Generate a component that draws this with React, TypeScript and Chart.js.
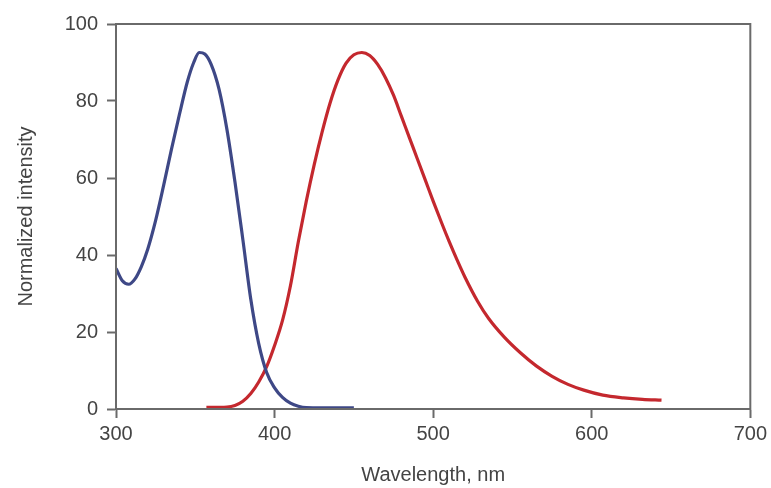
import React, { useEffect, useRef } from "react";
import { Chart, registerables } from "chart.js";

Chart.register(...registerables);

// Excitation spectrum (blue)
const excitationWavelength = [300, 304, 308, 312, 316, 320, 325, 330, 335, 340, 345, 349, 352.5, 356, 360, 365, 370, 375, 380, 385, 390, 395, 400, 405, 410, 415, 420, 430, 450];
const excitationIntensity = [36.5, 33.3, 32.4, 33.8, 37, 41.5, 49, 58, 67.5, 76.5, 85, 90, 92.6, 92.2, 89.5, 83, 72.5, 59, 44, 28.5, 17, 9.5, 5.5, 3, 1.5, 0.7, 0.35, 0.3, 0.3];

// Emission spectrum (red)
const emissionWavelength = [357, 370, 375, 380, 385, 390, 395, 400, 405, 410, 415, 420, 425, 430, 435, 440, 445, 450, 455, 460, 465, 470, 475, 480, 485, 490, 495, 500, 505, 510, 515, 520, 528, 535, 545, 555, 565, 575, 585, 595, 607, 620, 632, 644];
const emissionIntensity = [0.4, 0.5, 0.9, 2.0, 4.0, 7.0, 11, 16.5, 23, 32, 43.5, 54, 63.5, 72, 79.5, 85.5, 89.8, 92, 92.6, 91.8, 89.5, 86, 81.5, 76, 70.5, 65, 59.5, 54, 48.7, 43.6, 38.8, 34.3, 28, 23.5, 18.6, 14.6, 11.2, 8.5, 6.4, 4.9, 3.6, 2.9, 2.5, 2.3];

const xTickValues = [300, 400, 500, 600, 700];
const yTickValues = [0, 20, 40, 60, 80, 100];
const xTitle = "Wavelength, nm";
const yTitle = "Normalized intensity";

const FONT = "'Liberation Sans', Arial, sans-serif";

export default function App() {
  const ref = useRef<HTMLCanvasElement | null>(null);

  useEffect(() => {
    document.body.style.margin = "0";
    const canvas = ref.current;
    if (!canvas) return;

    const frame = {
      id: "frame",
      afterDatasetsDraw(chart: any) {
        const { ctx, chartArea } = chart;
        ctx.save();
        ctx.strokeStyle = "#6a6a6a";
        ctx.lineWidth = 2;
        ctx.strokeRect(chartArea.left, chartArea.top, chartArea.right - chartArea.left, chartArea.bottom - chartArea.top);
        ctx.restore();
      },
    };

    const chart = new Chart(canvas, {
      type: "line",
      data: {
        datasets: [
          {
            data: excitationWavelength.map((x, i) => ({ x, y: excitationIntensity[i] })),
            borderColor: "#3e4886",
            borderWidth: 3.2,
            pointRadius: 0,
            cubicInterpolationMode: "monotone",
            fill: false,
          },
          {
            data: emissionWavelength.map((x, i) => ({ x, y: emissionIntensity[i] })),
            borderColor: "#c4282e",
            borderWidth: 3.2,
            pointRadius: 0,
            cubicInterpolationMode: "monotone",
            fill: false,
          },
        ],
      },
      plugins: [frame],
      options: {
        animation: false,
        responsive: false,
        devicePixelRatio: 1,
        layout: { padding: { top: 24, right: 17, left: 0, bottom: 0 } },
        plugins: { legend: { display: false }, tooltip: { enabled: false } },
        scales: {
          x: {
            type: "linear",
            min: 300,
            max: 700,
            afterBuildTicks: (scale: any) => {
              scale.ticks = xTickValues.map((v) => ({ value: v }));
            },
            afterFit: (scale: any) => {
              scale.height = 79;
            },
            ticks: { color: "#444", font: { family: FONT, size: 20 }, padding: 4, maxRotation: 0 },
            grid: { drawOnChartArea: false, drawTicks: true, tickLength: 9, tickColor: "#6a6a6a", tickWidth: 2 },
            border: { display: true, color: "#6a6a6a", width: 2 },
            title: { display: true, text: xTitle, color: "#444", font: { family: FONT, size: 20 }, padding: { top: 0, bottom: 1 } },
          },
          y: {
            type: "linear",
            min: 0,
            max: 100,
            afterBuildTicks: (scale: any) => {
              scale.ticks = yTickValues.map((v) => ({ value: v }));
            },
            afterFit: (scale: any) => {
              scale.width = 116;
            },
            ticks: { color: "#444", font: { family: FONT, size: 20 }, padding: 9 },
            grid: { drawOnChartArea: false, drawTicks: true, tickLength: 9, tickColor: "#6a6a6a", tickWidth: 2 },
            border: { display: true, color: "#6a6a6a", width: 2 },
            title: { display: true, text: yTitle, color: "#444", font: { family: FONT, size: 20 }, padding: { top: 14, bottom: 0 } },
          },
        },
      },
    } as any);

    return () => chart.destroy();
  }, []);

  return (
    <div style={{ width: 771, height: 488, background: "#fff" }}>
      <canvas ref={ref} width={771} height={488} style={{ display: "block" }} />
    </div>
  );
}
